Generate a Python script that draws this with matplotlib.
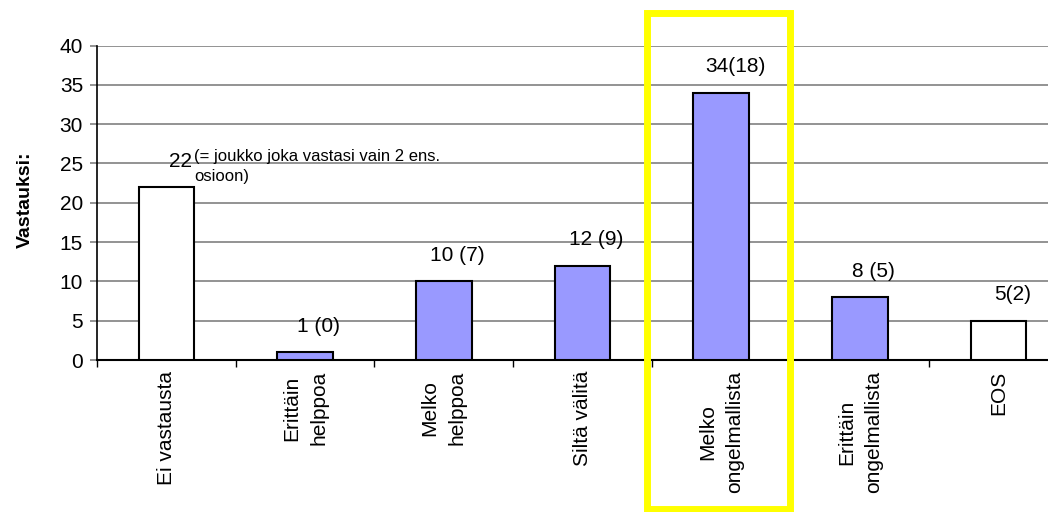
import matplotlib.pyplot as plt
import matplotlib.patches as patches
import numpy as np

plt.rcParams['font.family'] = ['Liberation Sans', 'DejaVu Sans']

categories = ['Ei vastausta', 'Erittäin\nhelppoa', 'Melko\nhelppoa', 'Siltä välitä',
              'Melko\nongelmallista', 'Erittäin\nongelmallista', 'EOS']
values = [22, 1, 10, 12, 34, 8, 5]
value_labels = ['22', '1 (0)', '10 (7)', '12 (9)', '34(18)', '8 (5)', '5(2)']
answered = [False, True, True, True, True, True, False]
note = '(= joukko joka vastasi vain 2 ens.\nosioon)'

fig = plt.figure(figsize=(10.48, 5.12), dpi=100)
# axis runs off the right edge of the picture, as in the original
ax = fig.add_axes([97/1048, 1 - 360/512, (1068 - 97)/1048, (360 - 45.5)/512])

x = np.arange(len(values))
colors = ['#9999FF' if a else 'white' for a in answered]
ax.bar(x, values, width=0.4, color=colors, edgecolor='black', linewidth=1.5, zorder=3)

for i, (v, lab) in enumerate(zip(values, value_labels)):
    ax.text(i + 0.1, v + 3.3, lab, ha='center', va='center', fontsize=15)
ax.text(0.2, 24.6, note, ha='left', va='center', fontsize=12, linespacing=1.45)

ax.set_xlim(-0.5, 6.5)
ax.set_ylim(0, 40)
ax.set_yticks(range(0, 41, 5))
ax.tick_params(axis='y', labelsize=15, length=5, width=1.2, color='#808080', pad=5)
ax.set_xticks(x)
ax.set_xticklabels(categories, rotation=90, fontsize=15, va='top', ha='center',
                   multialignment='center', linespacing=1.55)
ax.tick_params(axis='x', length=0, pad=8)
ax.set_xticks(np.arange(-0.5, 7, 1), minor=True)
ax.tick_params(axis='x', which='minor', length=5, width=1)
ax.yaxis.grid(True, color='#808080', linewidth=1.2, zorder=0)
ax.set_axisbelow(True)
for s in ['top', 'right']:
    ax.spines[s].set_visible(False)
ax.spines['left'].set_linewidth(1.2)
ax.spines['bottom'].set_linewidth(1.5)

fig.text(25/1048, 1 - 200/512, 'Vastauksi:', rotation=90, ha='center', va='center',
         fontsize=14, fontweight='bold')

rect = patches.Rectangle((647/1048, 1 - 509/512), (790 - 647)/1048, (509 - 13)/512,
                         transform=fig.transFigure, fill=False, edgecolor='#FFFF00',
                         linewidth=5, zorder=10)
fig.patches.append(rect)

fig.savefig('out.png', dpi=100)
